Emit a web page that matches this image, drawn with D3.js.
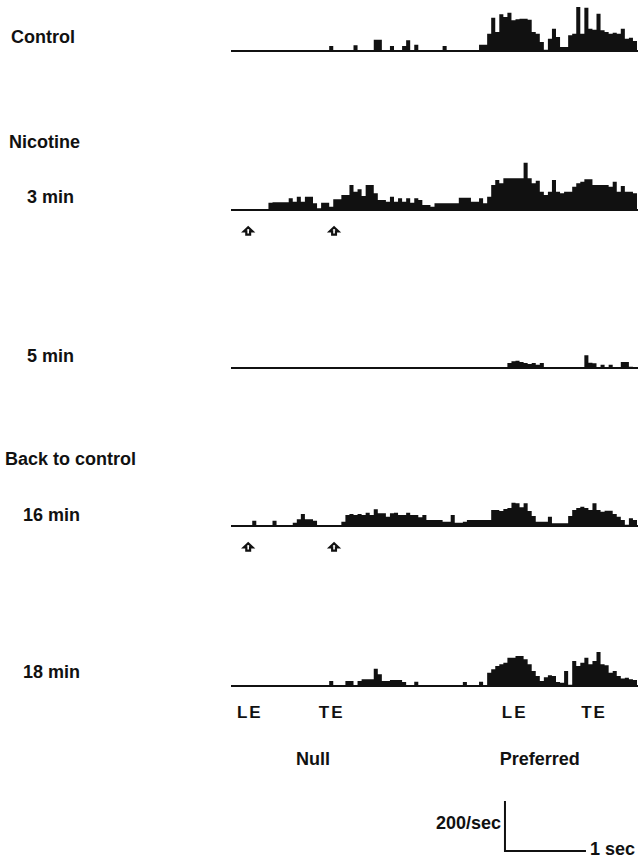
<!DOCTYPE html>
<html>
<head>
<meta charset="utf-8">
<script src="https://cdn.jsdelivr.net/npm/d3@7"></script>
<style>
 body { margin: 0; background: #fff; }
 text { font-family: "Liberation Sans", Arial, sans-serif; font-weight: bold; fill: #111; }
</style>
</head>
<body>
<svg width="638" height="859"></svg>
<script>
// Histogram rates (spikes/sec) in 0.05 sec bins, 5 sec sweep
var binWidth = 0.05;

var controlRates = [
 0,0,0,0,0,0,0,0,0,0,
 0,0,0,0,0,0,0,0,0,0,
 0,0,0,0,20,0,0,0,0,0,
 23,0,0,0,0,45,45,0,0,20,
 0,0,20,43,0,25,0,0,0,0,
 0,0,20,0,0,0,0,0,0,0,
 0,25,25,69,133,76,147,136,153,123,
 127,129,129,125,76,69,36,5,49,89,
 56,16,16,63,69,176,69,173,89,85,
 149,83,76,69,73,69,89,49,53,40];

var nic3Rates = [
 0,0,0,0,0,0,0,0,0,29,
 31,31,31,31,47,33,53,33,53,53,
 27,7,29,29,13,43,43,60,60,100,
 73,83,56,100,100,67,40,40,33,53,
 33,47,33,47,29,47,40,20,20,13,
 27,27,27,27,27,27,49,49,49,33,
 33,47,27,53,100,120,107,127,127,127,
 127,127,189,127,107,117,73,60,73,120,
 73,67,73,73,93,107,113,123,123,100,
 100,100,100,93,113,73,96,73,73,67];

var nic5Rates = [
 0,0,0,0,0,0,0,0,0,0,
 0,0,0,0,0,0,0,0,0,0,
 0,0,0,0,0,0,0,0,0,0,
 0,0,0,0,0,0,0,0,0,0,
 0,0,0,0,0,0,0,0,0,0,
 0,0,0,0,0,0,0,0,0,0,
 0,0,0,0,0,0,0,0,20,27,
 29,24,20,16,20,13,20,0,0,0,
 0,0,0,0,0,0,0,51,21,19,
 0,13,0,13,0,0,24,24,5,0];

var back16Rates = [
 0,0,0,0,0,21,0,0,0,0,
 21,0,0,0,0,13,27,48,27,27,
 21,0,0,0,0,0,0,17,44,48,
 44,48,44,53,44,67,51,51,37,51,
 53,44,44,53,44,44,35,44,24,24,
 24,24,17,17,44,13,13,17,24,24,
 24,24,24,24,64,64,60,68,72,93,
 91,75,91,60,40,17,17,17,37,11,
 11,11,11,40,64,72,77,72,64,91,
 64,57,61,61,48,37,24,5,31,24];

var back18Rates = [
 0,0,0,0,0,0,0,0,0,0,
 0,0,0,0,0,0,0,0,0,0,
 0,0,0,0,20,0,0,0,20,20,
 0,20,27,27,27,69,47,20,20,24,
 24,24,16,0,0,17,0,0,0,0,
 0,0,0,0,0,0,0,16,0,0,
 0,17,0,53,67,80,87,93,113,113,
 120,120,107,87,60,40,20,35,43,40,
 16,13,60,5,100,80,93,113,87,100,
 136,87,83,53,60,40,30,33,27,24];

var traceLabels = ["Control", "3 min", "5 min", "16 min", "18 min"];
var traceRates = [controlRates, nic3Rates, nic5Rates, back16Rates, back18Rates];
var traceBaselines = [51, 210, 368, 526, 686];

var groupLabels = ["Nicotine", "Back to control"];

// stimulus markers (sec)
var arrowTimes = [0.2, 1.26];
var arrowTraces = [1, 3];
var edgeLabels = ["LE", "TE", "LE", "TE"];
var edgeTimes = [0.22, 1.23, 3.49, 4.47];
var directionLabels = ["Null", "Preferred"];
var directionTimes = [1.0, 3.8];

// calibration bar
var calRate = 200;
var calTime = 1;
var calStart = 3.37;

var svg = d3.select("svg");

var x = d3.scaleLinear().domain([0, 5]).range([232, 637]);
var h = d3.scaleLinear().domain([0, 200]).range([0, 50]);

var area = d3.area()
 .curve(d3.curveStepAfter)
 .x(function(d) { return x(d[0]); })
 .y0(0)
 .y1(function(d) { return -h(d[1]); });

// Draw each histogram on its own baseline
traceRates.forEach(function(rates, i) {
 var pts = rates.map(function(v, k) { return [k * binWidth, v]; });
 pts.push([rates.length * binWidth, rates[rates.length - 1]]);

 var g = svg.append("g")
  .attr("transform", "translate(0," + traceBaselines[i] + ")");

 g.append("path")
  .datum(pts)
  .attr("d", area)
  .attr("fill", "#111");

 g.append("line")
  .attr("x1", x(0) - 1)
  .attr("x2", x(5) + 1)
  .attr("y1", 0)
  .attr("y2", 0)
  .attr("stroke", "#111")
  .attr("stroke-width", 2);
});

// Left labels
var labelPos = [[11, 43], [27, 203], [27, 362], [23, 521], [23, 678]];
traceLabels.forEach(function(t, i) {
 svg.append("text")
  .attr("x", labelPos[i][0])
  .attr("y", labelPos[i][1])
  .attr("font-size", "18px")
  .text(t);
});

svg.append("text").attr("x", 9).attr("y", 148).attr("font-size", "18px").text(groupLabels[0]);
svg.append("text").attr("x", 5).attr("y", 465).attr("font-size", "18px").text(groupLabels[1]);

// Hollow up arrows under traces
var arrowPath = "M0,-3.8L4.4,0.4L1.9,0.4L1.9,3.6L-1.9,3.6L-1.9,0.4L-4.4,0.4Z";
arrowTraces.forEach(function(ti) {
 svg.selectAll(".arrow" + ti)
  .data(arrowTimes)
  .enter()
  .append("path")
  .attr("class", "arrow" + ti)
  .attr("d", arrowPath)
  .attr("transform", function(d) {
   return "translate(" + x(d) + "," + (traceBaselines[ti] + 21) + ")";
  })
  .attr("fill", "#fff")
  .attr("stroke", "#111")
  .attr("stroke-width", 2.2)
  .attr("stroke-linejoin", "miter");
});

// LE / TE labels
svg.selectAll(".edge")
 .data(edgeLabels)
 .enter()
 .append("text")
 .attr("class", "edge")
 .attr("x", function(d, i) { return x(edgeTimes[i]); })
 .attr("y", 718)
 .attr("text-anchor", "middle")
 .attr("font-size", "17px")
 .attr("letter-spacing", "2px")
 .text(function(d) { return d; });

svg.selectAll(".dir")
 .data(directionLabels)
 .enter()
 .append("text")
 .attr("class", "dir")
 .attr("x", function(d, i) { return x(directionTimes[i]); })
 .attr("y", 765)
 .attr("text-anchor", "middle")
 .attr("font-size", "18px")
 .text(function(d) { return d; });

// Calibration bar
var calY = 851;
svg.append("path")
 .attr("d", "M" + x(calStart) + "," + (calY - h(calRate)) +
  "L" + x(calStart) + "," + calY +
  "L" + x(calStart + calTime) + "," + calY)
 .attr("fill", "none")
 .attr("stroke", "#111")
 .attr("stroke-width", 2);

svg.append("text")
 .attr("x", x(calStart) - 4)
 .attr("y", 829)
 .attr("text-anchor", "end")
 .attr("font-size", "18px")
 .text(calRate + "/sec");

svg.append("text")
 .attr("x", x(calStart + calTime) + 4)
 .attr("y", 855)
 .attr("font-size", "18px")
 .text(calTime + " sec");
</script>
</body>
</html>
